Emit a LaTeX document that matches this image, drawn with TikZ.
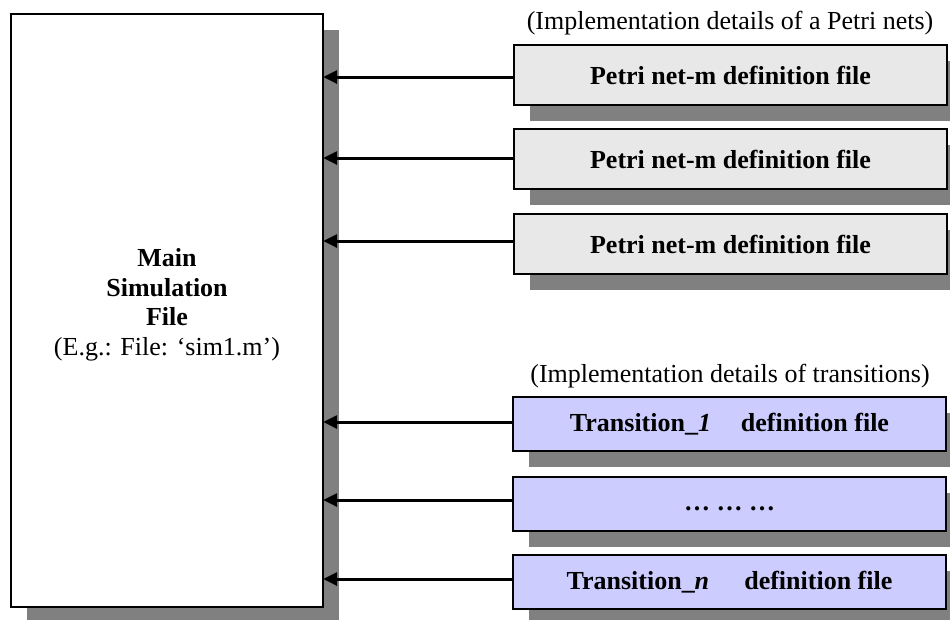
\documentclass[tikz,border=0pt]{standalone}
\usepackage{fontspec}
\setmainfont{Liberation Serif}
\usetikzlibrary{arrows.meta,shadows}
\definecolor{shadowgray}{HTML}{808080}
\definecolor{petrifill}{HTML}{E8E8E8}
\definecolor{transfill}{HTML}{CCCCFF}
\tikzset{
  boxshadow/.style={drop shadow={shadow xshift=16pt, shadow yshift=-16pt, fill=shadowgray, opacity=1}},
  mainbox/.style={draw=black, line width=1.3pt, fill=white, boxshadow,
    minimum width=312pt, minimum height=593pt, inner sep=0pt},
  filebox/.style={draw=black, line width=1.3pt, boxshadow, inner sep=0pt,
    font=\fontsize{26}{29}\selectfont\bfseries},
  petribox/.style={filebox, fill=petrifill, minimum width=433pt, minimum height=60pt},
  transbox/.style={filebox, fill=transfill, minimum width=433pt, minimum height=54pt},
  note/.style={font=\fontsize{26}{29}\selectfont, inner sep=0pt},
  feed/.style={line width=3pt, -{Triangle[length=14pt, width=13pt]}, shorten >=-0.5pt}
}
\begin{document}
\begin{tikzpicture}[x=1pt, y=-1pt]
  \clip (0,0) rectangle (950,619);
  \fill[white] (0,0) rectangle (950,619);

  % main simulation file
  \node[mainbox] (main) at (167,310.5) {};
  \node[note, align=center, font=\fontsize{26}{29.5}\selectfont] (maintext) at (167,305)
    {\textbf{Main}\\\textbf{Simulation}\\\textbf{File}\\(E.g.: File: `sim1.m')};

  % Petri net definition files
  \node[note] (pnote) at (730,23) {(Implementation details of a Petri nets)};
  \node[petribox] (p1) at (730.5,75) {Petri net-m definition file};
  \node[petribox] (p2) at (730.5,159) {Petri net-m definition file};
  \node[petribox] (p3) at (730.5,244) {Petri net-m definition file};

  % transition definition files
  \node[note] (tnote) at (730,376) {(Implementation details of transitions)};
  \node[transbox] (t1) at (729.5,424) {Transition\_\textit{1}\hspace{0.9em} definition file};
  \node[transbox] (t2) at (729.5,504) {\raisebox{-6pt}[0pt][0pt]{\dots\ \dots\ \dots}};
  \node[transbox] (tn) at (729.5,582) {Transition\_\textit{n}\hspace{1.1em} definition file};

  % connectors into the main file
  \foreach \b/\dy in {p1/2, p2/-1, p3/-3, t1/-2, t2/-4, tn/-3} {
    \draw[feed] ([yshift=-\dy pt]\b.west) -- ([yshift=-\dy pt]\b.west -| main.east);
  }
\end{tikzpicture}
\end{document}
